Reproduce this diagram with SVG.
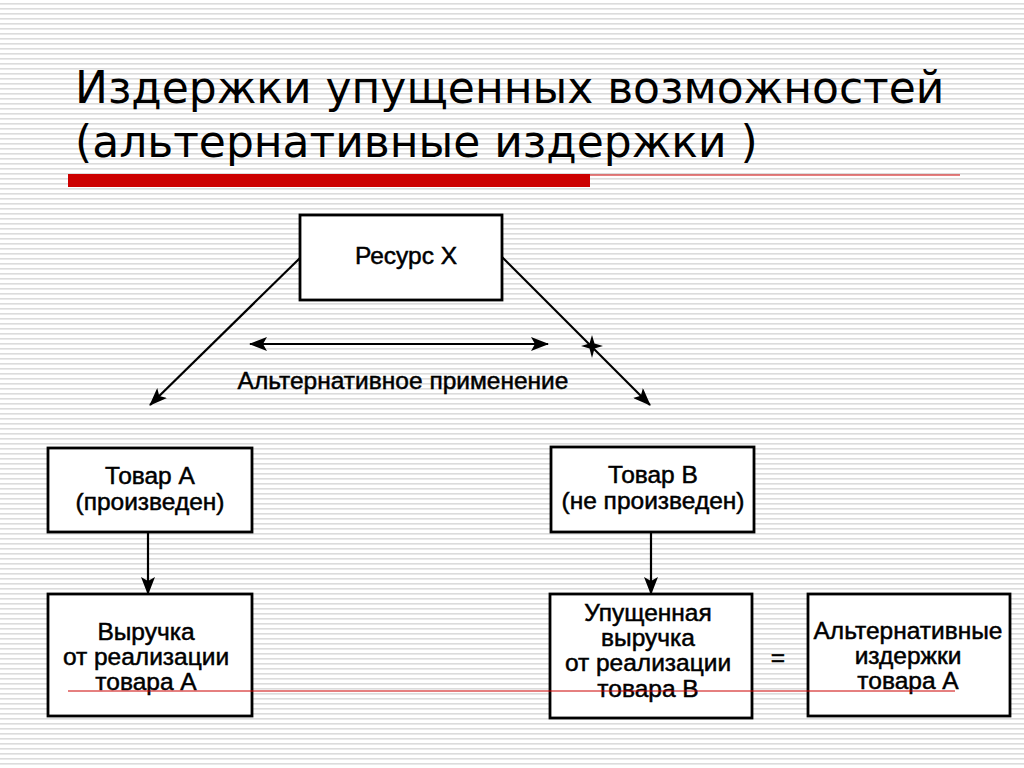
<svg xmlns="http://www.w3.org/2000/svg" width="1024" height="768" viewBox="0 0 1024 768">
<defs>
<pattern id="lines" width="8" height="5" patternUnits="userSpaceOnUse">
<rect width="8" height="5" fill="#ffffff"/>
<rect y="3" width="8" height="1.6" fill="#dcdcdc"/>
</pattern>
<marker id="ah" markerWidth="18" markerHeight="14" refX="17" refY="7" orient="auto" markerUnits="userSpaceOnUse">
<path d="M0,0 L18,7 L0,14 L4,7 Z" fill="#000"/>
</marker>
<marker id="ahs" markerWidth="18" markerHeight="14" refX="17" refY="7" orient="auto-start-reverse" markerUnits="userSpaceOnUse">
<path d="M0,0 L18,7 L0,14 L4,7 Z" fill="#000"/>
</marker>
</defs>
<style>
.box{fill:#fff;stroke:#000;stroke-width:2.8}
.t{font-family:"Liberation Sans",Arial,sans-serif;font-size:24.5px;fill:#000;text-anchor:middle;stroke:#000;stroke-width:0.5}
.title{font-family:"DejaVu Sans","Noto Sans",sans-serif;font-size:44px;fill:#000}
.c{stroke:#000;stroke-width:2.2;fill:none}
</style>
<rect width="1024" height="768" fill="url(#lines)"/>
<text class="title" x="75" y="103">Издержки упущенных возможностей</text>
<text class="title" x="75" y="157">(альтернативные издержки )</text>
<rect x="68" y="174" width="522" height="13" fill="#cc0000"/>
<line x1="590" y1="175" x2="960" y2="175" stroke="#cc0000" stroke-width="1.2"/>
<g id="connectors">
<line class="c" x1="300" y1="258" x2="150" y2="405" marker-end="url(#ah)"/>
<line class="c" x1="502" y1="257" x2="650" y2="405" marker-end="url(#ah)"/>
<line class="c" x1="250" y1="344" x2="548" y2="344" marker-start="url(#ahs)" marker-end="url(#ah)"/>
<line class="c" x1="148" y1="532" x2="148" y2="594" marker-end="url(#ah)"/>
<line class="c" x1="651" y1="532" x2="651" y2="594" marker-end="url(#ah)"/>
<path d="M592,335 L594.5,343.5 L603,346 L594.5,348.5 L592,358 L589.5,348.5 L581,346 L589.5,343.5 Z" fill="#000"/>
<text class="t" x="403" y="389">Альтернативное применение</text>
</g>
<g id="resource">
<rect class="box" x="300" y="215" width="202" height="85"/>
<text class="t" x="406" y="264">Ресурс X</text>
</g>
<g id="goodA">
<rect class="box" x="48" y="448" width="204" height="84"/>
<text class="t" x="150" y="484">Товар А</text>
<text class="t" x="150" y="510">(произведен)</text>
</g>
<g id="goodB">
<rect class="box" x="551" y="447" width="203" height="85"/>
<text class="t" x="653" y="483">Товар В</text>
<text class="t" x="653" y="509">(не произведен)</text>
</g>
<g id="revenueA">
<rect class="box" x="48" y="594" width="204" height="122"/>
<text class="t" x="146" y="640">Выручка</text>
<text class="t" x="146" y="665">от реализации</text>
<text class="t" x="146" y="690">товара А</text>
</g>
<g id="lostB">
<rect class="box" x="550" y="594" width="202" height="124"/>
<text class="t" x="648" y="621">Упущенная</text>
<text class="t" x="648" y="646">выручка</text>
<text class="t" x="648" y="671">от реализации</text>
<text class="t" x="648" y="697">товара В</text>
</g>
<text class="t" x="778" y="666">=</text>
<g id="altcost">
<rect class="box" x="808" y="594" width="202" height="122"/>
<text class="t" x="908" y="639">Альтернативные</text>
<text class="t" x="908" y="664">издержки</text>
<text class="t" x="908" y="689">товара А</text>
</g>
<line x1="68" y1="691" x2="955" y2="691" stroke="#cc0000" stroke-width="1"/>
</svg>
